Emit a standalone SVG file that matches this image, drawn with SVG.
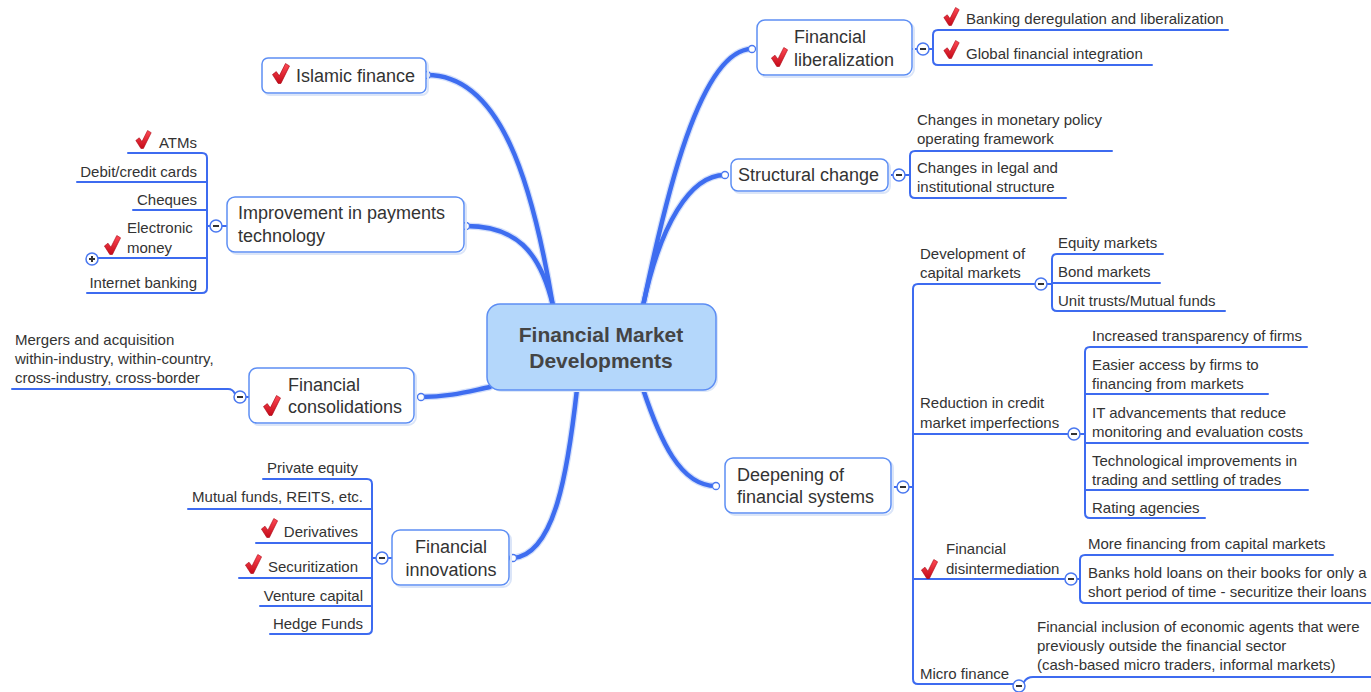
<svg xmlns="http://www.w3.org/2000/svg" xmlns:xlink="http://www.w3.org/1999/xlink" width="1371" height="692" viewBox="0 0 1371 692">
<style>
text{font-family:"Liberation Sans",Arial,sans-serif;fill:#333;}
.main{font-size:18px;}
.sub{font-size:15px;}
.ctr{font-size:21px;font-weight:bold;fill:#444;}
.node{fill:#fff;stroke:#5d8ef4;stroke-width:1.5;}
.shadow{fill:none;stroke:#dbe5f8;stroke-width:2;}
.br{fill:none;stroke:#3d6bf0;stroke-width:2;stroke-linecap:round;}
.thick{fill:none;stroke:#3e6df0;stroke-width:4.5;stroke-linecap:round;}
.glow{fill:none;stroke:#d4e0fb;stroke-width:7;stroke-linecap:round;}
.end{fill:#fff;stroke:#4a78f0;stroke-width:1.3;}
.btn{fill:#fff;stroke:#4a78f0;stroke-width:1.5;}
.minus{fill:#333;}
</style>
<defs>
<linearGradient id="rg" x1="0" y1="0" x2="0" y2="1">
<stop offset="0" stop-color="#ff4a55"/>
<stop offset="1" stop-color="#c50a18"/>
</linearGradient>
<symbol id="chk" viewBox="0 0 17 20">
<path d="M0.4,11 L4,8.2 L6.9,12.2 L12.8,0.5 L16.6,2.8 L8.4,19.5 L5.8,19.5 Z" fill="url(#rg)" stroke="#a80010" stroke-width="0.6" stroke-linejoin="round"/>
</symbol>
<g id="bm"><circle class="btn" r="6"/><rect class="minus" x="-3" y="-1" width="6" height="2"/></g>
</defs>
<rect width="1371" height="692" fill="#fff"/>

<g id="connectors">
<path class="glow" d="M427,75 C500,75 532,180 553,306"/>
<path class="glow" d="M466,226 C515,226 540,250 553,306"/>
<path class="glow" d="M752,49 C700,49 665,200 643,306"/>
<path class="glow" d="M725,175 C690,175 660,225 643,306"/>
<path class="glow" d="M421,397 C450,397 470,391 490,387"/>
<path class="glow" d="M513,558 C555,555 568,470 577,389"/>
<path class="glow" d="M716,486 C680,486 660,440 643,389"/>
<path class="thick" d="M427,75 C500,75 532,180 553,306"/>
<path class="thick" d="M466,226 C515,226 540,250 553,306"/>
<path class="thick" d="M752,49 C700,49 665,200 643,306"/>
<path class="thick" d="M725,175 C690,175 660,225 643,306"/>
<path class="thick" d="M421,397 C450,397 470,391 490,387"/>
<path class="thick" d="M513,558 C555,555 568,470 577,389"/>
<path class="thick" d="M716,486 C680,486 660,440 643,389"/>

<path class="br" d="M128,153 H202 Q207,153 207,158 V288 Q207,293 202,293 H87"/>
<path class="br" d="M77,182 H207 M133,210 H207 M88,258 H207 M207,226 H210 M222,226 H227"/>
<path class="br" d="M12,389 H228 Q233,389 235,394 M246,397 H249"/>
<path class="br" d="M263,479 H367 Q372,479 372,484 V629 Q372,634 367,634 H270"/>
<path class="br" d="M188,509 H372 M256,543 H372 M239,578 H372 M260,606 H372 M372,558 H376 M388,558 H392"/>
<path class="br" d="M1228,30 H938 Q933,30 933,35 V60 Q933,65 938,65 H1152 M913,49 H917 M929,49 H933"/>
<path class="br" d="M1112,151 H915 Q910,151 910,156 V193 Q910,198 915,198 H1066 M890,175 H893 M905,175 H910"/>
<path class="br" d="M1035,284 H918 Q913,284 913,289 V679 Q913,684 918,684 H1013 M913,434 H1068 M913,579 H1065 M893,487 H897 M909,487 H913"/>
<path class="br" d="M1163,254 H1057 Q1052,254 1052,259 V306 Q1052,311 1057,311 H1225 M1052,283 H1160 M1047,284 H1052"/>
<path class="br" d="M1307,347 H1090 Q1085,347 1085,352 V513 Q1085,518 1090,518 H1205 M1085,394 H1268 M1085,443 H1308 M1085,490 H1308 M1080,434 H1085"/>
<path class="br" d="M1333,555 H1085 Q1080,555 1080,560 V598 Q1080,603 1085,603 H1371 M1077,579 H1080"/>
<path class="br" d="M1024,682 Q1027,677 1033,677 H1371"/>

<circle class="end" cx="427" cy="75" r="3.5"/>
<circle class="end" cx="466" cy="226" r="3.5"/>
<circle class="end" cx="421" cy="397" r="3.5"/>
<circle class="end" cx="513" cy="558" r="3.5"/>
<circle class="end" cx="752" cy="49" r="3.5"/>
<circle class="end" cx="725" cy="175" r="3.5"/>
<circle class="end" cx="716" cy="486" r="3.5"/>

<use href="#bm" x="216" y="226"/>
<use href="#bm" x="240" y="397"/>
<use href="#bm" x="382" y="558"/>
<use href="#bm" x="923" y="49"/>
<use href="#bm" x="899" y="175"/>
<use href="#bm" x="903" y="487"/>
<use href="#bm" x="1041" y="284"/>
<use href="#bm" x="1074" y="434"/>
<use href="#bm" x="1071" y="579"/>
<use href="#bm" x="1019" y="686"/>
<g transform="translate(92,259)"><circle class="btn" r="6"/><rect class="minus" x="-3" y="-1" width="6" height="2"/><rect class="minus" x="-1" y="-3" width="2" height="6"/></g>
</g>

<g id="center">
<rect x="489" y="306" width="229" height="86" rx="13" fill="#dde8f8"/>
<rect x="487" y="304" width="229" height="86" rx="13" fill="#b4d7fb" stroke="#5d8ef4" stroke-width="1.5"/>
<text class="ctr" x="601" y="342" text-anchor="middle">Financial Market</text>
<text class="ctr" x="601" y="368" text-anchor="middle">Developments</text>
</g>

<g id="islamic">
<rect class="shadow" x="264" y="60" width="164" height="35" rx="6"/>
<rect class="node" x="262" y="58" width="164" height="35" rx="6"/>
<use href="#chk" x="272" y="63" width="18" height="21"/>
<text class="main" x="296" y="82">Islamic finance</text>
</g>

<g id="payments">
<rect class="shadow" x="229" y="199" width="237" height="55" rx="8"/>
<rect class="node" x="227" y="197" width="237" height="55" rx="8"/>
<text class="main" x="238" y="219">Improvement in payments</text>
<text class="main" x="238" y="242">technology</text>
</g>
<g id="atms"><use href="#chk" x="135" y="130" width="17" height="19"/><text class="sub" x="197" y="148" text-anchor="end">ATMs</text></g>
<g id="debit"><text class="sub" x="197" y="177" text-anchor="end">Debit/credit cards</text></g>
<g id="cheques"><text class="sub" x="197" y="205" text-anchor="end">Cheques</text></g>
<g id="emoney"><use href="#chk" x="104" y="235" width="17" height="20"/><text class="sub" x="127" y="233">Electronic</text><text class="sub" x="127" y="253">money</text></g>
<g id="internet"><text class="sub" x="197" y="288" text-anchor="end">Internet banking</text></g>

<g id="consolidations">
<rect class="shadow" x="251" y="370" width="165" height="55" rx="8"/>
<rect class="node" x="249" y="368" width="165" height="55" rx="8"/>
<use href="#chk" x="263" y="395" width="18" height="21"/>
<text class="main" x="288" y="391">Financial</text>
<text class="main" x="288" y="413">consolidations</text>
</g>
<g id="mergers"><text class="sub" x="15" y="345">Mergers and acquisition</text><text class="sub" x="15" y="364">within-industry, within-country,</text><text class="sub" x="15" y="383">cross-industry, cross-border</text></g>

<g id="innovations">
<rect class="shadow" x="394" y="532" width="117" height="55" rx="8"/>
<rect class="node" x="392" y="530" width="117" height="55" rx="8"/>
<text class="main" x="451" y="553" text-anchor="middle">Financial</text>
<text class="main" x="451" y="576" text-anchor="middle">innovations</text>
</g>
<g id="pe"><text class="sub" x="358" y="473" text-anchor="end">Private equity</text></g>
<g id="mf"><text class="sub" x="363" y="502" text-anchor="end">Mutual funds, REITS, etc.</text></g>
<g id="deriv"><use href="#chk" x="261" y="518" width="17" height="20"/><text class="sub" x="358" y="537" text-anchor="end">Derivatives</text></g>
<g id="secur"><use href="#chk" x="245" y="554" width="17" height="20"/><text class="sub" x="358" y="572" text-anchor="end">Securitization</text></g>
<g id="vc"><text class="sub" x="363" y="601" text-anchor="end">Venture capital</text></g>
<g id="hf"><text class="sub" x="363" y="629" text-anchor="end">Hedge Funds</text></g>

<g id="liberalization">
<rect class="shadow" x="759" y="22" width="155" height="55" rx="8"/>
<rect class="node" x="757" y="20" width="155" height="55" rx="8"/>
<use href="#chk" x="771" y="47" width="17" height="20"/>
<text class="main" x="794" y="43">Financial</text>
<text class="main" x="794" y="66">liberalization</text>
</g>
<g id="banking"><use href="#chk" x="943" y="7" width="17" height="19"/><text class="sub" x="966" y="24">Banking deregulation and liberalization</text></g>
<g id="global"><use href="#chk" x="943" y="40" width="17" height="19"/><text class="sub" x="966" y="59">Global financial integration</text></g>

<g id="structural">
<rect class="shadow" x="733" y="161" width="157" height="32" rx="7"/>
<rect class="node" x="731" y="159" width="157" height="32" rx="7"/>
<text class="main" x="738" y="181">Structural change</text>
</g>
<g id="monetary"><text class="sub" x="917" y="125">Changes in monetary policy</text><text class="sub" x="917" y="144">operating framework</text></g>
<g id="legal"><text class="sub" x="917" y="173">Changes in legal and</text><text class="sub" x="917" y="192">institutional structure</text></g>

<g id="deepening">
<rect class="shadow" x="727" y="460" width="166" height="55" rx="8"/>
<rect class="node" x="725" y="458" width="166" height="55" rx="8"/>
<text class="main" x="737" y="481">Deepening of</text>
<text class="main" x="737" y="503">financial systems</text>
</g>
<g id="devcap"><text class="sub" x="920" y="259">Development of</text><text class="sub" x="920" y="278">capital markets</text></g>
<g id="equity"><text class="sub" x="1058" y="248">Equity markets</text></g>
<g id="bond"><text class="sub" x="1058" y="277">Bond markets</text></g>
<g id="unit"><text class="sub" x="1058" y="306">Unit trusts/Mutual funds</text></g>
<g id="reduction"><text class="sub" x="920" y="408">Reduction in credit</text><text class="sub" x="920" y="428">market imperfections</text></g>
<g id="transp"><text class="sub" x="1092" y="341">Increased transparency of firms</text></g>
<g id="easier"><text class="sub" x="1092" y="370">Easier access by firms to</text><text class="sub" x="1092" y="389">financing from markets</text></g>
<g id="itadv"><text class="sub" x="1092" y="418">IT advancements that reduce</text><text class="sub" x="1092" y="437">monitoring and evaluation costs</text></g>
<g id="techimp"><text class="sub" x="1092" y="466">Technological improvements in</text><text class="sub" x="1092" y="485">trading and settling of trades</text></g>
<g id="rating"><text class="sub" x="1092" y="513">Rating agencies</text></g>
<g id="disinter"><use href="#chk" x="921" y="559" width="17" height="20"/><text class="sub" x="946" y="554">Financial</text><text class="sub" x="946" y="574">disintermediation</text></g>
<g id="morefin"><text class="sub" x="1088" y="549">More financing from capital markets</text></g>
<g id="banks"><text class="sub" x="1088" y="578">Banks hold loans on their books for only a</text><text class="sub" x="1088" y="597">short period of time - securitize their loans</text></g>
<g id="micro"><text class="sub" x="920" y="679">Micro finance</text></g>
<g id="inclusion"><text class="sub" x="1037" y="632">Financial inclusion of economic agents that were</text><text class="sub" x="1037" y="651">previously outside the financial sector</text><text class="sub" x="1037" y="670">(cash-based micro traders, informal markets)</text></g>
</svg>
